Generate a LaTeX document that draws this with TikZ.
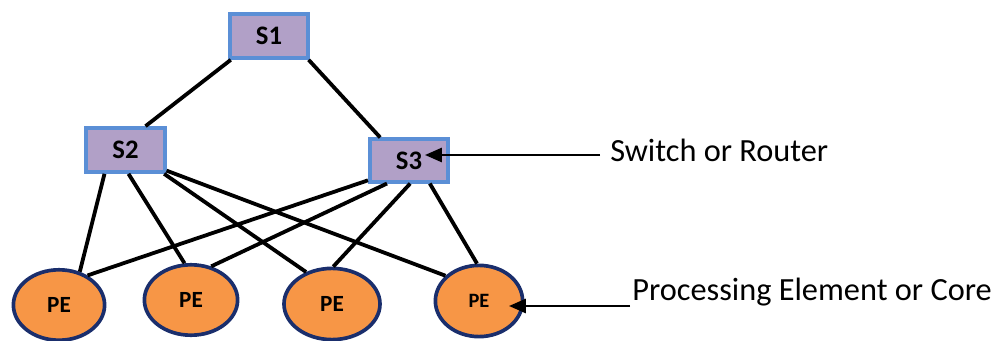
\documentclass[tikz,border=0pt]{standalone}
\usepackage{fontspec}
\setmainfont{Carlito}
\usetikzlibrary{shapes.geometric,arrows.meta}
\definecolor{boxfill}{HTML}{B1A0C7}
\definecolor{boxline}{HTML}{5B8FD6}
\definecolor{pefill}{HTML}{F79646}
\definecolor{peline}{HTML}{1A2E6C}
\begin{document}
\begin{tikzpicture}[x=0.025cm,y=-0.025cm,
  sw/.style={draw=boxline,fill=boxfill,line width=2.6pt,minimum width=1.96cm,minimum height=1.1cm,inner sep=0pt,font=\fontsize{19}{22}\selectfont\bfseries},
  pe/.style={ellipse,draw=peline,fill=pefill,line width=2.6pt,inner sep=0pt,font=\fontsize{16.5}{19}\selectfont\bfseries},
  link/.style={line width=2.7pt,black},
  lbl/.style={anchor=west,inner sep=0pt,font=\fontsize{23}{27}\selectfont},
  ptr/.style={line width=1.8pt,-{Triangle[length=12pt,width=10pt]}}]
\useasboundingbox (0,0) rectangle (1002,341);
\node[sw] (S1) at (269,36) {S1};
\node[sw] (S2) at (125.5,150) {S2};
\node[sw,minimum height=1.06cm] (S3) at (409,160.5) {S3};
\node[pe,minimum width=2.28cm,minimum height=1.76cm] (PE1) at (59,305) {PE};
\node[pe,minimum width=2.33cm,minimum height=1.76cm] (PE2) at (191,300) {PE};
\node[pe,minimum width=2.4cm,minimum height=1.78cm] (PE3) at (332,304) {PE};
\node[pe,minimum width=2.18cm,minimum height=1.78cm,font=\fontsize{14.5}{17}\selectfont\bfseries] (PE4) at (479,301) {PE};
% links
\draw[link] ([xshift=2pt]S1.south west) -- ([xshift=0.5cm]S2.north);
\draw[link] ([xshift=-1pt]S1.south east) -- ([xshift=-0.72cm]S3.north);
\draw[link] ([xshift=-0.525cm]S2.south) -- (PE1.58);
\draw[link] ([xshift=0.075cm]S2.south) -- (PE2.100);
\draw[link] ([xshift=-0.06cm]S2.south east) -- (PE3.129);
\draw[link] ([yshift=0.08cm]S2.south east) -- (PE4.143);
\draw[link] ([yshift=0.08cm]S3.south west) -- (PE1.46);
\draw[link] ([xshift=-0.55cm]S3.south) -- (PE2.59);
\draw[link] ([xshift=0.03cm]S3.south) -- (PE3.88);
\draw[link] ([xshift=0.52cm]S3.south) -- (PE4.93);
% labels
\node[lbl] (L1) at (610,150) {Switch or Router};
\node[lbl] (L2) at (632,292) {Processing Element or Core};
\coordinate (t1) at (425,155);
\coordinate (t2) at (509,306);
\draw[ptr] (600,155) coordinate (a1) -- (t1);
\draw[ptr] (630,306) coordinate (a2) -- (t2);
\end{tikzpicture}
\end{document}
